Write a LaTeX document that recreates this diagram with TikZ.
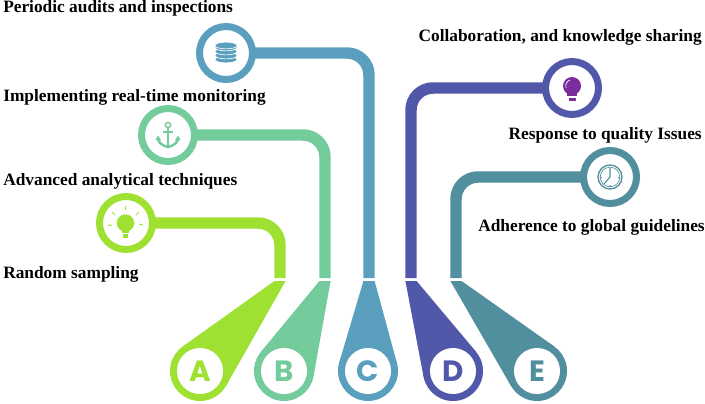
\documentclass[tikz,border=0pt]{standalone}
\usepackage{fontspec}
\setmainfont{Liberation Serif}
\newfontfamily\letterfont{Poppins}
\usetikzlibrary{calc}
\definecolor{cA}{HTML}{9FE133}
\definecolor{cB}{HTML}{74CC9C}
\definecolor{cC}{HTML}{5B9FBF}
\definecolor{cD}{HTML}{5258A9}
\definecolor{cE}{HTML}{528F9E}
\definecolor{cP}{HTML}{7B2D9E}
\tikzset{
 ring/.style={circle,draw=#1,fill=white,line width=5.25pt,minimum size=39.75pt,inner sep=0pt,outer sep=0pt},
 pipe/.style={draw=#1,line width=8.6pt,rounded corners=16.5pt},
 lab/.style={font=\bfseries\fontsize{13}{15}\selectfont,inner sep=0pt,text=black},
 disc/.style={circle,fill=white,minimum size=34.5pt,inner sep=0pt,outer sep=0pt,font=\letterfont\fontsize{22}{24}\selectfont\bfseries,text=#1},
 hub/.style={circle,minimum size=45pt,inner sep=0pt,outer sep=0pt},
}
\begin{document}
\begin{tikzpicture}[x=0.75pt,y=-0.75pt]
\useasboundingbox (0,0) rectangle (705,403);
% stem ends and funnel tops
\foreach \n/\x in {A/280,B/325,C/369,D/411,E/456}{
  \coordinate (s\n) at (\x,278);
  \coordinate (l\n) at (\x-5.6,281);
  \coordinate (r\n) at (\x+5.6,281);
}
% funnels
\foreach \n/\x in {A/200,B/284,C/368,D/453,E/537}{
  \node[hub] (h\n) at (\x,371) {};
  \fill[c\n] (h\n) circle[radius=30];
  \fill[c\n] (l\n) -- (tangent cs:node=h\n,point={(l\n)},solution=1)
     -- (tangent cs:node=h\n,point={(r\n)},solution=2) -- (r\n) -- cycle;
  \fill[c\n] (l\n) -- (tangent cs:node=h\n,point={(l\n)},solution=2)
     -- (tangent cs:node=h\n,point={(r\n)},solution=1) -- (r\n) -- cycle;
  \node[disc=c\n] (d\n) at (\x,371) {\n};
}
% top circles
\coordinate (pA) at (126,223);
\coordinate (pB) at (168,135);
\coordinate (pC) at (226,53);
\coordinate (pD) at (572,88);
\coordinate (pE) at (610,177);
\foreach \n in {A,B,C,D,E}{
  \draw[pipe=c\n] (p\n) -| (s\n);
}
\foreach \n in {A,B,C,D,E}{
  \node[ring=c\n] (n\n) at (p\n) {};
}
% database icon
\foreach \y in {59.5,55.5,51.5,47.5,45.5}{
  \filldraw[fill=cC,draw=white,line width=0.5pt] (226,\y) ellipse[x radius=11,y radius=3.4];
}
% anchor icon
\draw[cB,line width=1pt] (168,125) circle[radius=2.7];
\draw[cB,line width=2.2pt] (168,128) -- (168,146);
\draw[cB,line width=1.5pt] (163,132) -- (173,132);
\draw[cB,line width=1.9pt] (158,139) .. controls (159,144) and (164,146) .. (168,147)
   .. controls (172,146) and (177,144) .. (178,139);
\fill[cB] (155.5,140) -- (161,140) -- (158,135.5) -- cycle;
\fill[cB] (180.5,140) -- (175,140) -- (178,135.5) -- cycle;
% lime bulb
\fill[cA] (125.5,223) circle[radius=8.7];
\fill[cA] (122,229) rectangle (129,233);
\fill[cA] (123,234) rectangle (128,238);
\draw[cA,line width=0.7pt] (115,215) -- (112,212) (125.5,210) -- (125.5,206) (136,215) -- (139,212)
  (112,225) -- (108,225.5) (139,224) -- (143,225);
% purple bulb
\fill[cP] (572,86) circle[radius=9];
\fill[cP] (567,92) rectangle (577,96);
\fill[cP] (568.5,98) rectangle (575.5,101);
\draw[white,line width=0.5pt] (566,88) .. controls (565,84) and (567,81) .. (570,80);
% clock
\draw[cE,line width=1pt] (610,177) circle[radius=12];
\draw[cE,line width=0.5pt] (610,177) circle[radius=9.8];
\draw[cE,line width=0.8pt] (604,184) -- (610,177) -- (610,168.5);
\foreach \a in {0,90,180,270}{
  \draw[cE,line width=0.4pt] (610,177) ++(\a:9.5) -- ++(\a:-1.5);
}
% labels
\node[lab,anchor=base west] (t1) at (3,13) {Periodic audits and inspections};
\node[lab,anchor=base west] (t2) at (3,101) {Implementing real-time monitoring};
\node[lab,anchor=base west] (t3) at (3,185) {Advanced analytical techniques};
\node[lab,anchor=base west] (t4) at (3,278) {Random sampling};
\node[lab,anchor=base east] (t5) at (702,41) {Collaboration, and knowledge sharing};
\node[lab,anchor=base east] (t6) at (702,139) {Response to quality Issues};
\node[lab,anchor=base east] (t7) at (705,231) {Adherence to global guidelines};
\end{tikzpicture}
\end{document}
